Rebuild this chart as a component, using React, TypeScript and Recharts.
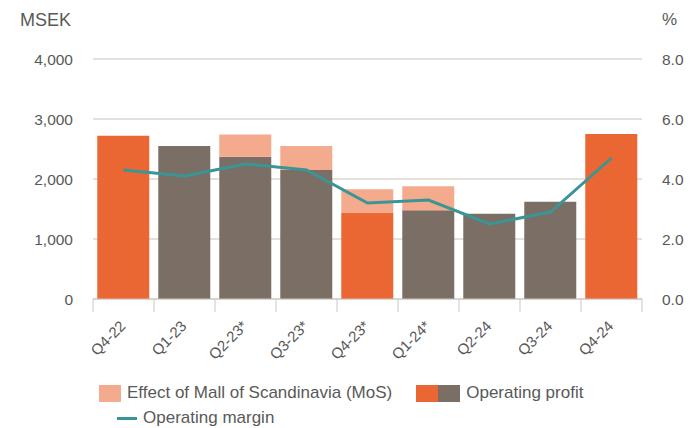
import React from "react";
import { Bar, Cell, ComposedChart, CartesianGrid, Line, XAxis, YAxis } from "recharts";

const quarters = ["Q4-22", "Q1-23", "Q2-23*", "Q3-23*", "Q4-23*", "Q1-24*", "Q2-24", "Q3-24", "Q4-24"];
const operatingProfit = [2720, 2550, 2370, 2150, 1440, 1480, 1420, 1620, 2750];
const mosEffect = [0, 0, 370, 400, 390, 400, 0, 0, 0];
const operatingMargin = [4.3, 4.1, 4.5, 4.3, 3.2, 3.3, 2.5, 2.9, 4.7];
const leftTicks = [0, 1000, 2000, 3000, 4000];
const rightTicks = [0, 2, 4, 6, 8];

const ORANGE = "#EA6632";
const GREY = "#7A6E65";
const SALMON = "#F4AA8C";
const TEAL = "#3A9696";
const TEXT = "#595959";
const GRID = "#C9C2B8";
const FONT = "'Liberation Sans', Arial, sans-serif";

const data = quarters.map((q, i) => ({
    quarter: q,
    profit: operatingProfit[i],
    mos: mosEffect[i],
    margin: operatingMargin[i],
}));

const XTick = (props: any) => {
    const { x, y, payload, index } = props;
    const half = payload?.offset ?? 30.5;
    const tx = x + 3;
    const ty = y + 28;
    return (
        <g>
            <line x1={x - half} y1={y} x2={x - half} y2={y + 13} stroke="#CFC8C0" />
            {index === quarters.length - 1 && (
                <line x1={x + half} y1={y} x2={x + half} y2={y + 13} stroke="#CFC8C0" />
            )}
            <text
                x={tx}
                y={ty}
                textAnchor="end"
                fill={TEXT}
                fontSize={15}
                fontFamily={FONT}
                transform={`rotate(-45, ${tx}, ${ty})`}
            >
                {payload.value}
            </text>
        </g>
    );
};

export default function App() {
    return (
        <div style={{ position: "fixed", top: 0, left: 0, width: 697, height: 428, background: "#fff", fontFamily: FONT }}>
            <div style={{ position: "absolute", left: 20, top: 10, fontSize: 18, color: TEXT }}>MSEK</div>
            <div style={{ position: "absolute", left: 662, top: 10, fontSize: 17, color: TEXT }}>%</div>
            <ComposedChart
                width={697}
                height={428}
                data={data}
                margin={{ top: 59, right: 0, bottom: 0, left: 0 }}
                barCategoryGap="7%"
            >
                <CartesianGrid vertical={false} stroke={GRID} yAxisId="left" />
                <XAxis
                    dataKey="quarter"
                    height={129}
                    tickSize={0}
                    tickMargin={0}
                    interval={0}
                    tick={<XTick />}
                    axisLine={{ stroke: "#CFC8C0" }}
                    tickLine={false}
                />
                <YAxis
                    yAxisId="left"
                    width={93}
                    domain={[0, 4000]}
                    ticks={leftTicks}
                    tickFormatter={(v: number) => v.toLocaleString("en-US")}
                    axisLine={false}
                    tickLine={false}
                    tickSize={0}
                    tickMargin={20}
                    tick={{ fill: TEXT, fontSize: 15.5, fontFamily: FONT }}
                />
                <YAxis
                    yAxisId="right"
                    orientation="right"
                    width={55}
                    domain={[0, 8]}
                    ticks={rightTicks}
                    tickFormatter={(v: number) => v.toFixed(1)}
                    axisLine={false}
                    tickLine={false}
                    tickSize={0}
                    tickMargin={20}
                    tick={{ fill: TEXT, fontSize: 15.5, fontFamily: FONT }}
                />
                <Bar yAxisId="left" dataKey="profit" stackId="a" isAnimationActive={false}>
                    {quarters.map((q) => (
                        <Cell key={q} fill={q.startsWith("Q4") ? ORANGE : GREY} />
                    ))}
                </Bar>
                <Bar yAxisId="left" dataKey="mos" stackId="a" fill={SALMON} isAnimationActive={false} />
                <Line
                    yAxisId="right"
                    dataKey="margin"
                    stroke={TEAL}
                    strokeWidth={3}
                    dot={false}
                    type="linear"
                    isAnimationActive={false}
                />
            </ComposedChart>
            <div style={{ position: "absolute", left: 99, top: 383, display: "flex", alignItems: "center", fontSize: 17, color: TEXT }}>
                <span style={{ width: 22, height: 17, background: SALMON, marginRight: 6 }} />
                <span>Effect of Mall of Scandinavia (MoS)</span>
                <span style={{ width: 22, height: 17, background: ORANGE, marginLeft: 24 }} />
                <span style={{ width: 22, height: 17, background: GREY, marginRight: 6 }} />
                <span>Operating profit</span>
            </div>
            <div style={{ position: "absolute", left: 117, top: 408, display: "flex", alignItems: "center", fontSize: 17, color: TEXT }}>
                <span style={{ width: 20, height: 3, background: TEAL, marginRight: 6 }} />
                <span>Operating margin</span>
            </div>
        </div>
    );
}
